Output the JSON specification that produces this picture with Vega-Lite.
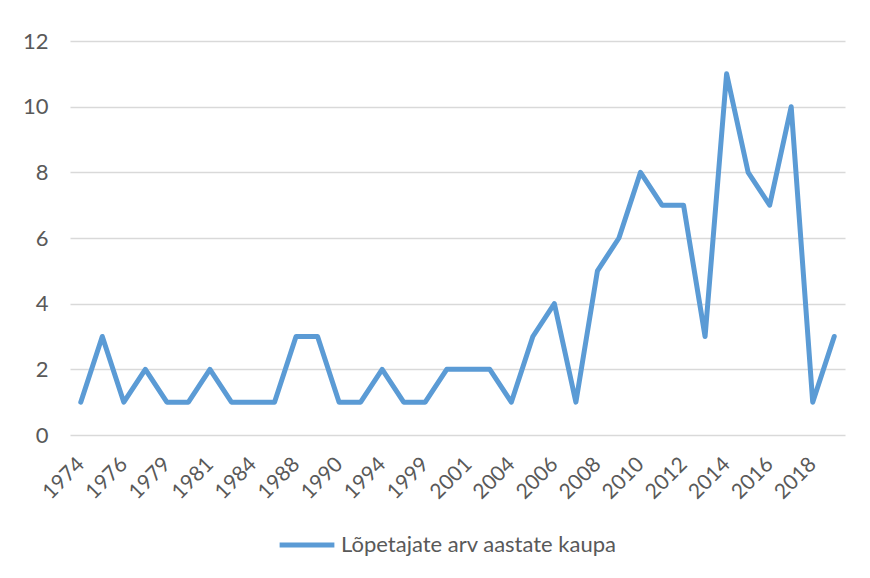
{
  "$schema": "https://vega.github.io/schema/vega-lite/v6.json",
  "autosize": "none",
  "width": 775,
  "height": 394,
  "padding": {"left": 70, "top": 41, "right": 25, "bottom": 143},
  "background": "white",
  "config": {
    "font": "Lato",
    "view": {"stroke": null}
  },
  "data": {
    "values": [
      {"aasta": "1974", "arv": 1}, {"aasta": "1975", "arv": 3}, {"aasta": "1976", "arv": 1},
      {"aasta": "1977", "arv": 2}, {"aasta": "1979", "arv": 1}, {"aasta": "1980", "arv": 1},
      {"aasta": "1981", "arv": 2}, {"aasta": "1982", "arv": 1}, {"aasta": "1984", "arv": 1},
      {"aasta": "1986", "arv": 1}, {"aasta": "1988", "arv": 3}, {"aasta": "1989", "arv": 3},
      {"aasta": "1990", "arv": 1}, {"aasta": "1992", "arv": 1}, {"aasta": "1994", "arv": 2},
      {"aasta": "1996", "arv": 1}, {"aasta": "1999", "arv": 1}, {"aasta": "2000", "arv": 2},
      {"aasta": "2001", "arv": 2}, {"aasta": "2002", "arv": 2}, {"aasta": "2004", "arv": 1},
      {"aasta": "2005", "arv": 3}, {"aasta": "2006", "arv": 4}, {"aasta": "2007", "arv": 1},
      {"aasta": "2008", "arv": 5}, {"aasta": "2009", "arv": 6}, {"aasta": "2010", "arv": 8},
      {"aasta": "2011", "arv": 7}, {"aasta": "2012", "arv": 7}, {"aasta": "2013", "arv": 3},
      {"aasta": "2014", "arv": 11}, {"aasta": "2015", "arv": 8}, {"aasta": "2016", "arv": 7},
      {"aasta": "2017", "arv": 10}, {"aasta": "2018", "arv": 1}, {"aasta": "2019", "arv": 3}
    ]
  },
  "mark": {"type": "line", "strokeWidth": 5, "strokeCap": "round", "strokeJoin": "round"},
  "encoding": {
    "x": {
      "field": "aasta",
      "type": "nominal",
      "sort": null,
      "scale": {"type": "point", "padding": 0.5},
      "axis": {
        "title": null,
        "values": ["1974", "1976", "1979", "1981", "1984", "1988", "1990", "1994", "1999", "2001", "2004", "2006", "2008", "2010", "2012", "2014", "2016", "2018"],
        "labelAngle": -45,
        "labelAlign": "right",
        "labelBaseline": "middle",
        "labelFontSize": 21,
        "labelColor": "#595959",
        "labelPadding": 26,
        "ticks": false,
        "domain": false,
        "grid": false
      }
    },
    "y": {
      "field": "arv",
      "type": "quantitative",
      "scale": {"domain": [0, 12]},
      "axis": {
        "title": null,
        "values": [0, 2, 4, 6, 8, 10, 12],
        "labelFontSize": 22,
        "labelColor": "#595959",
        "labelPadding": 22,
        "ticks": false,
        "domain": false,
        "grid": true,
        "gridColor": "#d9d9d9",
        "gridWidth": 1.5
      }
    },
    "color": {
      "datum": "Lõpetajate arv aastate kaupa",
      "type": "nominal",
      "scale": {"range": ["#5b9bd5"]},
      "legend": {
        "title": null,
        "orient": "none",
        "legendX": 207,
        "legendY": 474,
        "symbolType": "stroke",
        "symbolSize": 3000,
        "symbolStrokeWidth": 5,
        "labelFontSize": 22,
        "labelLimit": 400,
        "labelColor": "#595959",
        "labelOffset": 4
      }
    }
  }
}
